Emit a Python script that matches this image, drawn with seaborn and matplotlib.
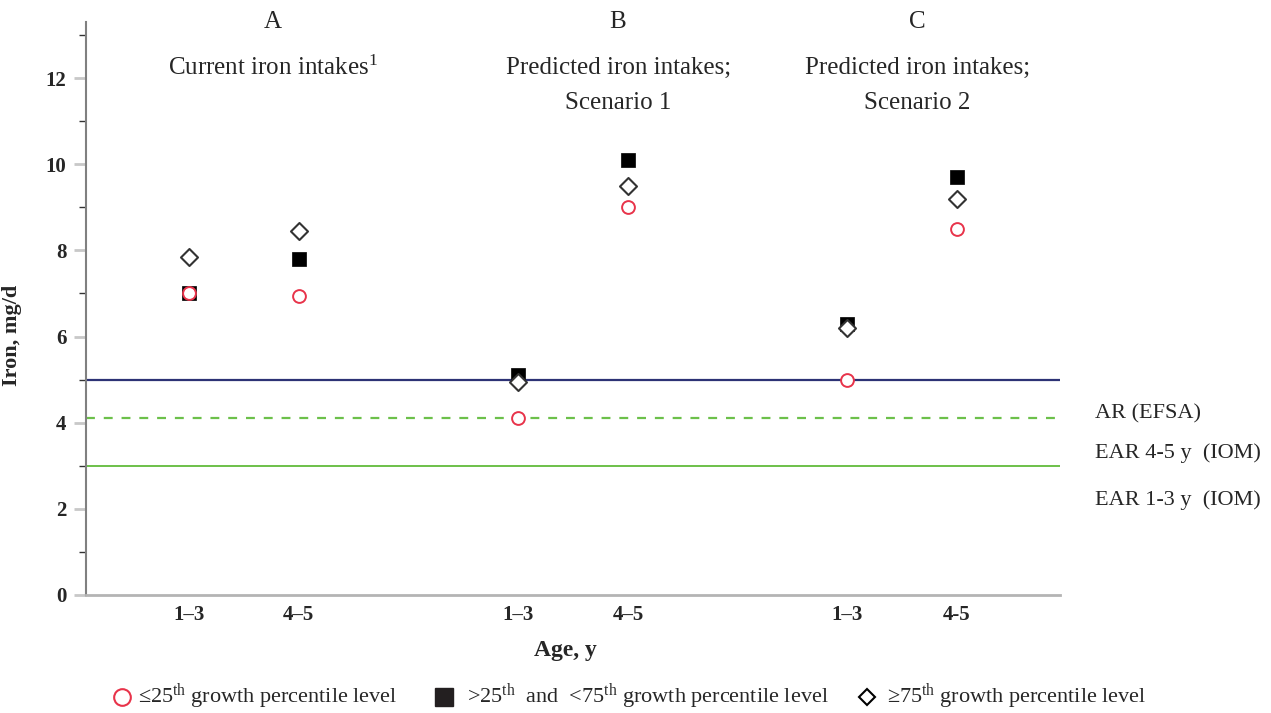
import pandas as pd
import matplotlib.pyplot as plt
import seaborn as sns
from matplotlib.lines import Line2D
from matplotlib.ticker import MultipleLocator


# =========================
# Data
# =========================

age_groups = ["1\u20133", "4\u20135", "1\u20133", "4\u20135", "1\u20133", "4-5"]
x_pos = [1, 2, 4, 5, 7, 8]

low_25 = [7.0, 6.95, 4.1, 9.0, 5.0, 8.5]
mid_25_75 = [7.0, 7.8, 5.1, 10.1, 6.3, 9.7]
high_75 = [7.85, 8.45, 4.95, 9.5, 6.2, 9.2]

panel_letters = ["A", "B", "C"]
title_line1 = ["Current iron intakes$^{1}$",
               "Predicted iron intakes;",
               "Predicted iron intakes;"]
title_line2 = ["", "Scenario 1", "Scenario 2"]
panel_x = [1.76, 4.91, 7.64]

ref_values = [5.0, 4.1, 3.0]
ref_labels = ["AR (EFSA)", "EAR 4-5 y  (IOM)", "EAR 1-3 y  (IOM)"]
ref_label_y = [4.2, 3.3, 2.2]

legend_labels = [
    "\u226425$^{\\mathrm{th}}$ growth percentile level",
    ">25$^{\\mathrm{th}}$  and  <75$^{\\mathrm{th}}$ growth percentile level",
    "\u226575$^{\\mathrm{th}}$ growth percentile level",
]


# =========================
# Style
# =========================

sns.set_style("white")
plt.rcParams["font.family"] = ["Liberation Serif", "DejaVu Serif"]
plt.rcParams["mathtext.fontset"] = "custom"
plt.rcParams["mathtext.rm"] = "Liberation Serif"
plt.rcParams["mathtext.it"] = "Liberation Serif:italic"
plt.rcParams["mathtext.bf"] = "Liberation Serif:bold"


fig = plt.figure(figsize=(12.71, 7.13), dpi=100)
ax = fig.add_axes([0.0677, 0.1655, 0.7664, 0.8035])


# =========================
# Reference lines
# =========================

ax.axhline(ref_values[0], color="#2d3275", lw=1.6, zorder=1)
ax.axhline(ref_values[1], color="#6cc04a", lw=1.6, ls=(0, (4, 4)), zorder=1)
ax.axhline(ref_values[2], color="#6cc04a", lw=1.4, zorder=1)

for lab, yy in zip(ref_labels, ref_label_y):
    ax.text(9.26, yy, lab, fontsize=16, ha="left", va="center",
            clip_on=False)


# =========================
# Points
# =========================

data = pd.DataFrame({
    "x": x_pos * 3,
    "iron": low_25 + mid_25_75 + high_75,
    "group": ["low"] * 6 + ["mid"] * 6 + ["high"] * 6,
})

sns.scatterplot(
    data=data[data["group"] == "mid"], x="x", y="iron",
    marker="s", s=95, color="black", edgecolor="black", linewidth=0.5,
    ax=ax, zorder=3
)

sns.scatterplot(
    data=data[data["group"] == "high"], x="x", y="iron",
    marker="D", s=75, facecolor="white", edgecolor="#333333", linewidth=1.5,
    ax=ax, zorder=4
)

sns.scatterplot(
    data=data[data["group"] == "low"], x="x", y="iron",
    marker="o", s=85, facecolor="white", edgecolor="#e8334a", linewidth=1.4,
    ax=ax, zorder=5
)


# =========================
# Axes
# =========================

ax.set_xlim(0.06, 8.94)
ax.set_ylim(0, 13.3)

ax.set_xticks(x_pos)
ax.set_xticklabels(age_groups, fontsize=15, fontweight="bold")
ax.tick_params(axis="x", length=0, pad=7)

ax.yaxis.set_minor_locator(MultipleLocator(1))
ax.set_yticks([0, 2, 4, 6, 8, 10, 12])
ax.set_yticklabels(["0", "2", "4", "6", "8", "10", "12"],
                   fontsize=15, fontweight="bold")
ax.tick_params(axis="y", which="major", length=9, width=2,
               color="#c8c8c8", left=True, pad=5)
ax.tick_params(axis="y", which="minor", length=5, width=1,
               color="#333333", left=True)

sns.despine(ax=ax, top=True, right=True)
ax.spines["left"].set_color("#808080")
ax.spines["left"].set_linewidth(1.5)
ax.spines["bottom"].set_color("#b4b4b4")
ax.spines["bottom"].set_linewidth(2)

ax.set_xlabel("Age, y", fontsize=17, fontweight="bold")
ax.xaxis.set_label_coords(0.492, -0.079)
ax.set_ylabel("Iron, mg/d", fontsize=16, fontweight="bold")
ax.yaxis.set_label_coords(-0.066, 0.454)


# =========================
# Panel titles
# =========================

for letter, t1, t2, xx in zip(panel_letters, title_line1, title_line2, panel_x):
    ax.text(xx, 13.30, letter, fontsize=18, ha="center", va="center",
            clip_on=False)
    ax.text(xx, 12.23, t1, fontsize=18, ha="center", va="center")
    ax.text(xx, 11.42, t2, fontsize=18, ha="center", va="center")


# =========================
# Legend
# =========================

legend_y = 1 - 697 / 713
legend_marker_x = [122 / 1271, 444 / 1271, 867 / 1271]
legend_text_x = [138 / 1271, 467 / 1271, 887 / 1271]

legend_markers = [
    dict(marker="o", ms=12, mfc="none", mec="#e8334a", mew=1.5),
    dict(marker="s", ms=13, mfc="#231f20", mec="#231f20"),
    dict(marker="D", ms=8, mfc="white", mec="black", mew=1.5),
]

for mx, tx, style, lab in zip(legend_marker_x, legend_text_x,
                              legend_markers, legend_labels):
    fig.add_artist(Line2D([mx], [legend_y], ls="none",
                          transform=fig.transFigure, **style))
    fig.text(tx, legend_y, lab, fontsize=16, ha="left", va="center")

plt.savefig("out.png", dpi=100)
plt.close()
